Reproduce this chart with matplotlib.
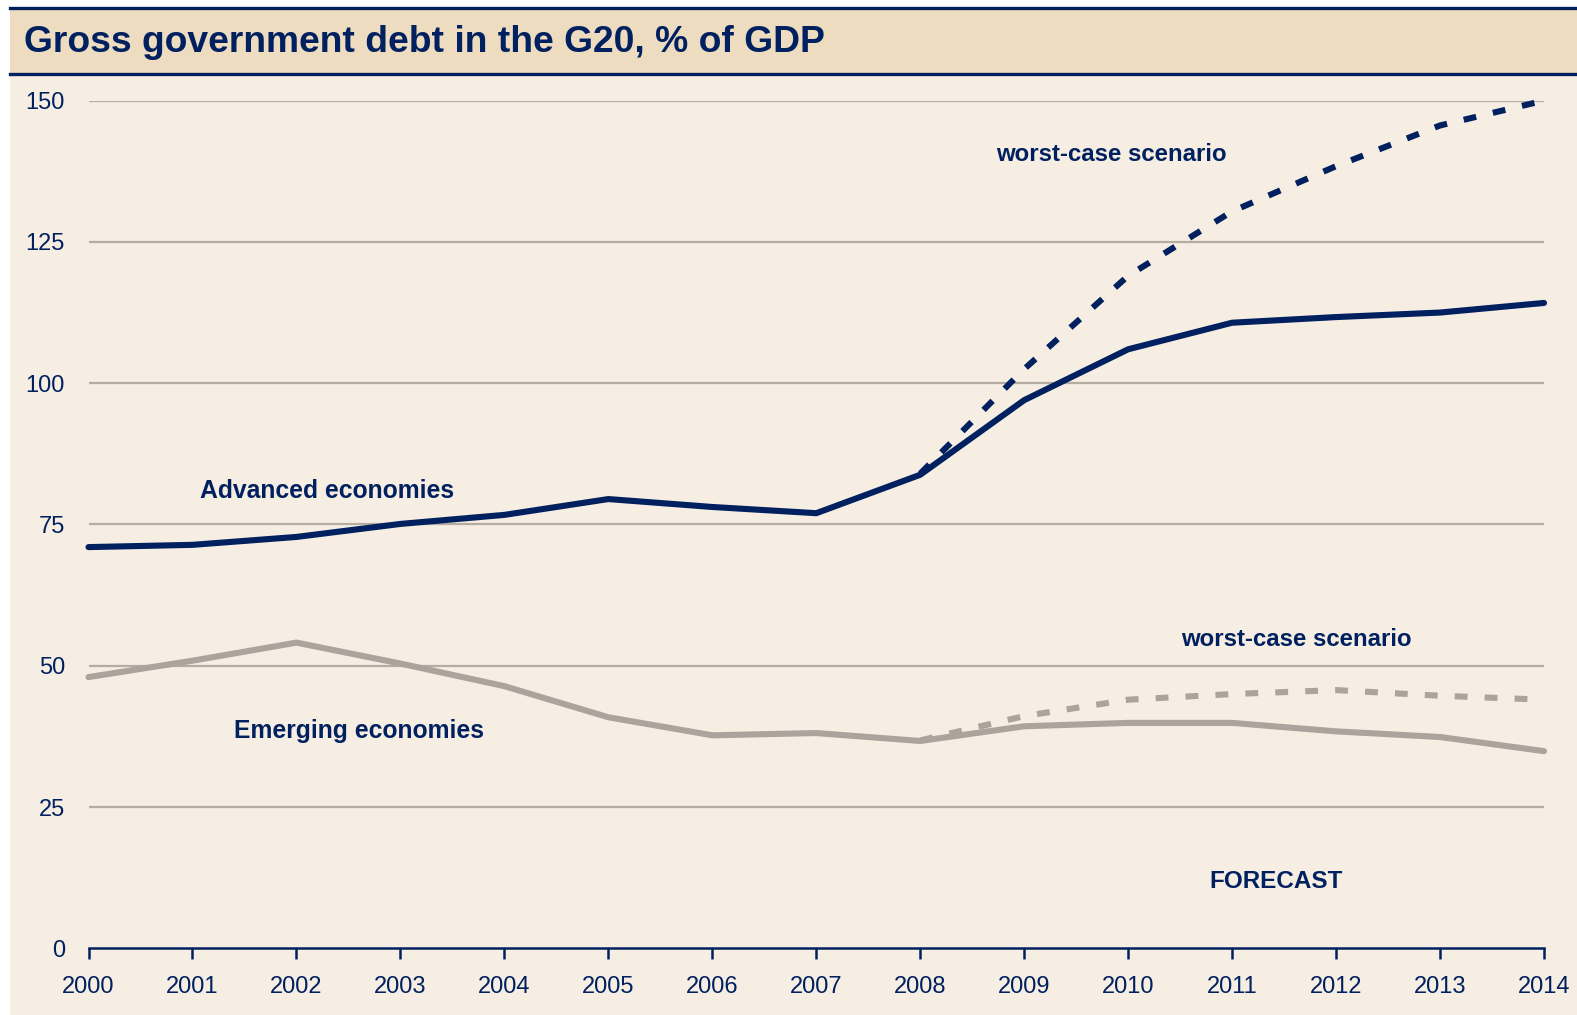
import matplotlib
matplotlib.use("Agg")
import matplotlib.pyplot as plt
from matplotlib.patches import Rectangle
from matplotlib.lines import Line2D

years = list(range(2000, 2015))
advanced = [71.0, 71.4, 72.8, 75.1, 76.7, 79.5, 78.1, 77.0, 83.8, 97.0, 106.0, 110.7, 111.7, 112.5, 114.2]
emerging = [48.0, 50.9, 54.1, 50.4, 46.4, 40.9, 37.7, 38.1, 36.7, 39.3, 39.9, 39.9, 38.4, 37.4, 34.9]
wc_years = list(range(2008, 2015))
advanced_worst = [84.0, 102.5, 119.0, 130.4, 138.4, 145.6, 150.0]
emerging_worst = [36.8, 41.1, 44.0, 45.0, 45.7, 44.7, 44.0]
yticks = [0, 25, 50, 75, 100, 125, 150]

NAVY = "#002060"
GREY = "#aca49c"
GRID = "#b5aca2"
BG = "#f6eee2"
BAND = "#eddcbf"

plt.rcParams['font.family'] = ['Liberation Sans', 'DejaVu Sans']

W, H = 1577, 1015
fig = plt.figure(figsize=(W / 100, H / 100), dpi=100, facecolor="white")

def fx(px):
    return px / W

def fy(py):
    return 1 - py / H

# panel background
fig.add_artist(Rectangle((fx(10), 0), 1 - fx(10), fy(8), transform=fig.transFigure,
                         facecolor=BG, edgecolor="none", zorder=0))
# title band
fig.add_artist(Rectangle((fx(10), fy(73)), 1 - fx(10), fy(8) - fy(73), transform=fig.transFigure,
                         facecolor=BAND, edgecolor="none", zorder=1))
fig.add_artist(Line2D([fx(10), 1], [fy(7.5), fy(7.5)], transform=fig.transFigure,
                      color=NAVY, lw=2.4, zorder=2))
fig.add_artist(Line2D([fx(10), 1], [fy(73.5), fy(73.5)], transform=fig.transFigure,
                      color=NAVY, lw=2.4, zorder=2))
fig.text(fx(24), fy(42), "Gross government debt in the G20, % of GDP", fontsize=26.8,
         fontweight="bold", color=NAVY, ha="left", va="center")

ax = fig.add_axes([fx(88.5), fy(948.4), fx(1544) - fx(88.5), fy(100.6) - fy(948.4)])
ax.set_facecolor("none")
ax.set_xlim(2000, 2014)
ax.set_ylim(0, 150)

for v in yticks[1:]:
    ax.axhline(v, color=GRID, lw=1.6, zorder=1)

LW = 4.4
ax.plot(years, emerging, color=GREY, lw=LW, solid_capstyle="round", solid_joinstyle="round",
        zorder=3, clip_on=False)
ax.plot(wc_years, emerging_worst, color=GREY, lw=LW, linestyle=(0, (2.1, 2.8)),
        dash_capstyle="butt", zorder=2, clip_on=False)
ax.plot(years, advanced, color=NAVY, lw=LW, solid_capstyle="round", solid_joinstyle="round",
        zorder=5, clip_on=False)
ax.plot(wc_years, advanced_worst, color=NAVY, lw=LW, linestyle=(0, (2.1, 2.8)),
        dash_capstyle="butt", zorder=4, clip_on=False)

for s in ["top", "right", "left"]:
    ax.spines[s].set_visible(False)
ax.spines["bottom"].set_color(NAVY)
ax.spines["bottom"].set_linewidth(1.8)
ax.spines["bottom"].set_zorder(6)

ax.set_xticks(years)
ax.set_xticklabels([str(y) for y in years])
ax.set_yticks(yticks)
ax.set_yticklabels([str(v) for v in yticks])
ax.tick_params(axis="x", direction="out", length=8, width=1.8, color=NAVY,
               labelcolor=NAVY, labelsize=17, pad=12)
ax.tick_params(axis="y", length=0, labelcolor=NAVY, labelsize=17, pad=17)

ax.text(2009.84, 140.4, "worst-case scenario", fontsize=17.3,
        fontweight="bold", color=NAVY, ha="center", va="center")
ax.text(2011.62, 54.6, "worst-case scenario", fontsize=17.3,
        fontweight="bold", color=NAVY, ha="center", va="center")
ax.text(2002.29, 81.0, "Advanced economies", fontsize=17.8, fontweight="bold",
        color=NAVY, ha="center", va="center")
ax.text(2002.6, 38.4, "Emerging economies", fontsize=17.8, fontweight="bold",
        color=NAVY, ha="center", va="center")
ax.text(2011.42, 11.9, "FORECAST", fontsize=17.5, fontweight="bold",
        color=NAVY, ha="center", va="center")

fig.savefig("out.png", dpi=100, facecolor="white")
